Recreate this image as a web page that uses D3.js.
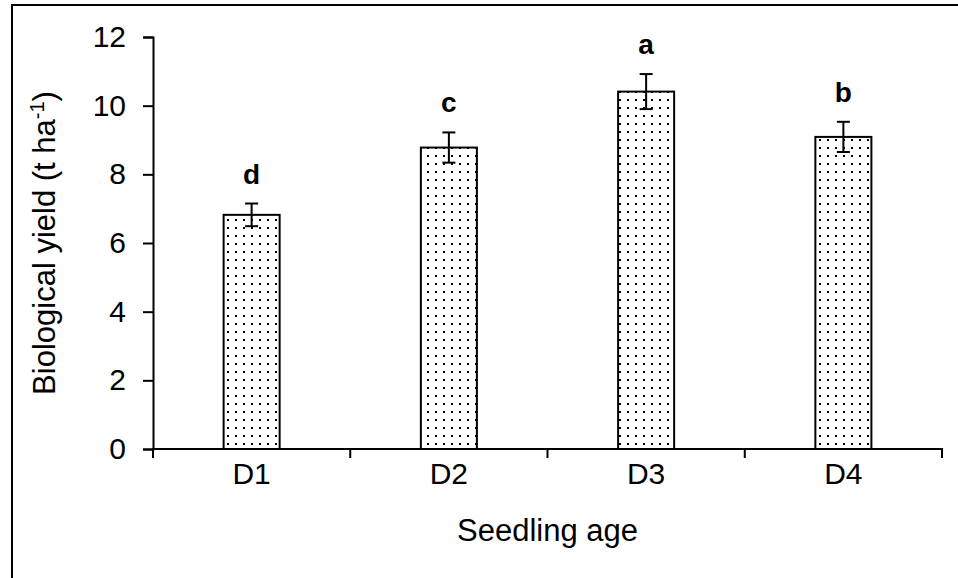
<!DOCTYPE html>
<html>
<head>
<meta charset="utf-8">
<script src="https://cdn.jsdelivr.net/npm/d3@7"></script>
<style>
  html, body { margin: 0; padding: 0; background: #fff; }
  svg { display: block; font-family: "Liberation Sans", Arial, sans-serif; }
</style>
</head>
<body>
<svg id="chart" width="958" height="578"></svg>
<script>
// Biological yield by seedling age
const categories = ["D1", "D2", "D3", "D4"];
const yieldMean = [6.82, 8.78, 10.41, 9.09];
const yieldErr = [0.33, 0.44, 0.51, 0.44];
const groupLetters = ["d", "c", "a", "b"];
const yTicks = [0, 2, 4, 6, 8, 10, 12];

const svg = d3.select("#chart");
const margin = { left: 153, right: 16, top: 37, bottom: 129 };
const W = 958, H = 578;

const x = d3.scaleBand()
  .domain(categories)
  .range([margin.left, W - margin.right])
  .paddingInner(0.716)
  .paddingOuter(0.358);

const y = d3.scaleLinear()
  .domain([0, 12])
  .range([H - margin.bottom, margin.top]);

// dotted fill pattern
const defs = svg.append("defs");
const pat = defs.append("pattern")
  .attr("id", "dots")
  .attr("patternUnits", "userSpaceOnUse")
  .attr("width", 8).attr("height", 8);
pat.append("rect").attr("width", 8).attr("height", 8).attr("fill", "#fff");
pat.append("rect").attr("x", 3).attr("y", 3).attr("width", 2).attr("height", 2).attr("fill", "#000");

// outer frame
svg.append("rect")
  .attr("x", 12).attr("y", 5)
  .attr("width", 1000).attr("height", 1000)
  .attr("fill", "none").attr("stroke", "#000").attr("stroke-width", 2);

// bars
svg.append("g").selectAll("rect")
  .data(categories)
  .join("rect")
  .attr("x", d => x(d))
  .attr("y", (d, i) => y(yieldMean[i]))
  .attr("width", x.bandwidth())
  .attr("height", (d, i) => y(0) - y(yieldMean[i]))
  .attr("fill", "url(#dots)")
  .attr("stroke", "#000")
  .attr("stroke-width", 2);

// error bars
const eb = svg.append("g").attr("stroke", "#000").attr("stroke-width", 2);
categories.forEach((c, i) => {
  const cx = x(c) + x.bandwidth() / 2;
  const hi = y(yieldMean[i] + yieldErr[i]);
  const lo = y(yieldMean[i] - yieldErr[i]);
  eb.append("line").attr("x1", cx).attr("x2", cx).attr("y1", hi).attr("y2", lo);
  eb.append("line").attr("x1", cx - 6.5).attr("x2", cx + 6.5).attr("y1", hi).attr("y2", hi);
  eb.append("line").attr("x1", cx - 6.5).attr("x2", cx + 6.5).attr("y1", lo).attr("y2", lo);
});

// significance letters
svg.append("g").selectAll("text")
  .data(categories)
  .join("text")
  .attr("x", d => x(d) + x.bandwidth() / 2)
  .attr("y", (d, i) => y(yieldMean[i] + yieldErr[i]) - 20)
  .attr("text-anchor", "middle")
  .attr("font-size", 28)
  .attr("font-weight", "bold")
  .text((d, i) => groupLetters[i]);

// y axis
const yAxis = svg.append("g")
  .attr("transform", `translate(${margin.left},0)`)
  .call(d3.axisLeft(y).tickValues(yTicks).tickSize(10).tickPadding(17).tickFormat(d3.format("d")));
yAxis.select(".domain").attr("stroke-width", 2);
yAxis.selectAll(".tick line").attr("stroke-width", 2);
yAxis.selectAll(".tick text").attr("font-size", 30).attr("fill", "#000")
  .attr("font-family", "Liberation Sans, Arial, sans-serif");

// x axis
const xAxis = svg.append("g")
  .attr("transform", `translate(0,${y(0)})`)
  .call(d3.axisBottom(x).tickSize(0).tickPadding(14));
xAxis.select(".domain").attr("stroke-width", 2)
  .attr("d", `M${margin.left},9V0H${W - margin.right}V9`);
xAxis.selectAll(".tick text").attr("font-size", 30).attr("fill", "#000")
  .attr("font-family", "Liberation Sans, Arial, sans-serif");

// x boundaries between categories
const bounds = d3.range(categories.length + 1).map(i => margin.left + i * x.step());
svg.append("g").selectAll("line")
  .data(bounds)
  .join("line")
  .attr("x1", d => d).attr("x2", d => d)
  .attr("y1", y(0)).attr("y2", y(0) + 9)
  .attr("stroke", "#000").attr("stroke-width", 2);

// axis titles
svg.append("text")
  .attr("x", (margin.left + W - margin.right) / 2)
  .attr("y", 541)
  .attr("text-anchor", "middle")
  .attr("font-size", 31)
  .text("Seedling age");

const yt = svg.append("text")
  .attr("transform", `translate(55,${(y(0) + y(12)) / 2}) rotate(-90)`)
  .attr("text-anchor", "middle")
  .attr("font-size", 31);
yt.append("tspan").text("Biological yield (t ha");
yt.append("tspan").attr("font-size", 20).attr("dy", -11).text("-1");
yt.append("tspan").attr("dy", 11).text(")");
</script>
</body>
</html>
